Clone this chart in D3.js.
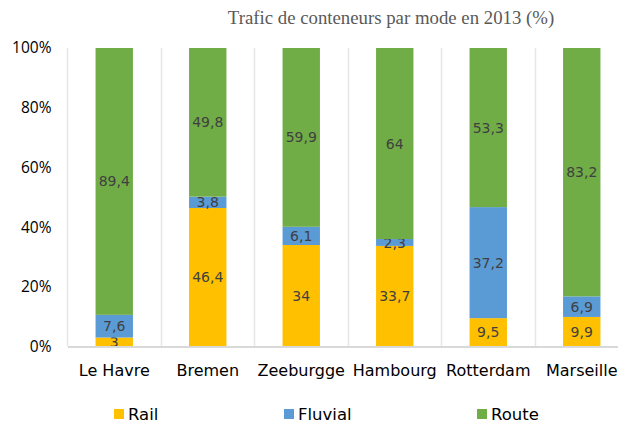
<!DOCTYPE html>
<html>
<head>
<meta charset="utf-8">
<script src="https://cdn.jsdelivr.net/npm/d3@7"></script>
<style>
  body { margin: 0; background: #fff; }
  svg { display: block; }
</style>
</head>
<body>
<div id="chart"></div>
<script>
// categories and series values (%)
var ports = ["Le Havre", "Bremen", "Zeeburgge", "Hambourg", "Rotterdam", "Marseille"];
var rail = [3, 46.4, 34, 33.7, 9.5, 9.9];
var fluvial = [7.6, 3.8, 6.1, 2.3, 37.2, 6.9];
var route = [89.4, 49.8, 59.9, 64, 53.3, 83.2];
var modes = ["Rail", "Fluvial", "Route"];
var colors = ["#FFC000", "#5B9BD5", "#70AD47"];
var yTicks = [0, 20, 40, 60, 80, 100];

var width = 618, height = 427;
var margin = { left: 67.5, right: -10.5, top: 48, bottom: 80 };

var svg = d3.select("#chart").append("svg")
    .attr("width", width)
    .attr("height", height);

var table = ports.map(function (p, i) {
    return { port: p, Rail: rail[i], Fluvial: fluvial[i], Route: route[i] };
});
var stacked = d3.stack().keys(modes)(table);

var x = d3.scaleBand()
    .domain(ports)
    .range([margin.left, width - margin.right])
    .paddingInner(0.6)
    .paddingOuter(0.3);

var y = d3.scaleLinear()
    .domain([0, 100])
    .range([height - margin.bottom - 0.5, margin.top]);

// title
svg.append("text")
    .attr("x", 391)
    .attr("y", 24)
    .attr("text-anchor", "middle")
    .attr("font-family", "'Liberation Serif', serif")
    .attr("font-size", 18.8)
    .attr("fill", "#595959")
    .text("Trafic de conteneurs par mode en 2013 (%)");

// vertical separators between categories
svg.append("g").selectAll("line")
    .data(ports)
    .enter().append("line")
    .attr("x1", function (d) { return Math.round(x(d) - x.bandwidth() * 0.75) + 0.5; })
    .attr("x2", function (d) { return Math.round(x(d) - x.bandwidth() * 0.75) + 0.5; })
    .attr("y1", y(100))
    .attr("y2", y(0))
    .attr("stroke", "#e6e6e6")
    .attr("stroke-width", 1.5);

// bars
var layers = svg.append("g").selectAll("g")
    .data(stacked)
    .enter().append("g")
    .attr("fill", function (d, i) { return colors[i]; });

layers.selectAll("rect")
    .data(function (d) { return d; })
    .enter().append("rect")
    .attr("x", function (d) { return x(d.data.port); })
    .attr("width", x.bandwidth())
    .attr("y", function (d) { return y(d[1]); })
    .attr("height", function (d) { return y(d[0]) - y(d[1]); });

// value labels
layers.selectAll("text")
    .data(function (d) { return d.map(function (s) { s.key = d.key; return s; }); })
    .enter().append("text")
    .attr("x", function (d) { return x(d.data.port) + x.bandwidth() / 2; })
    .attr("y", function (d) { return (y(d[0]) + y(d[1])) / 2; })
    .attr("dy", "0.36em")
    .attr("text-anchor", "middle")
    .attr("font-family", "'DejaVu Sans', sans-serif")
    .attr("font-size", 14)
    .attr("fill", "#404040")
    .text(function (d) { return String(d.data[d.key]).replace(".", ","); });

// y axis
var yAxis = svg.append("g")
    .attr("transform", "translate(" + (margin.left - 16) + ",0)")
    .call(d3.axisLeft(y).tickValues(yTicks).tickSize(0).tickPadding(0)
        .tickFormat(function (d) { return d + "%"; }));
yAxis.select(".domain").remove();
yAxis.selectAll("text")
    .attr("font-family", "'Open Sans', sans-serif")
    .attr("font-size", 15.5)
    .attr("fill", "#000");

// x axis
var xAxis = svg.append("g")
    .attr("transform", "translate(0," + y(0) + ")")
    .call(d3.axisBottom(x).tickSize(0).tickPadding(18));
xAxis.select(".domain")
    .attr("stroke", "#d9d9d9")
    .attr("stroke-width", 2);
xAxis.selectAll("text")
    .attr("font-family", "'DejaVu Sans', sans-serif")
    .attr("font-size", 16)
    .attr("fill", "#000");

// legend
var legendX = [114, 284, 477];
var legend = svg.append("g").selectAll("g")
    .data(modes)
    .enter().append("g")
    .attr("transform", function (d, i) { return "translate(" + legendX[i] + ",409)"; });
legend.append("rect")
    .attr("width", 10)
    .attr("height", 10)
    .attr("fill", function (d, i) { return colors[i]; });
legend.append("text")
    .attr("x", 14)
    .attr("y", 5)
    .attr("dy", "0.36em")
    .attr("font-family", "'DejaVu Sans', sans-serif")
    .attr("font-size", 16.5)
    .attr("fill", "#000")
    .text(function (d) { return d; });
</script>
</body>
</html>
